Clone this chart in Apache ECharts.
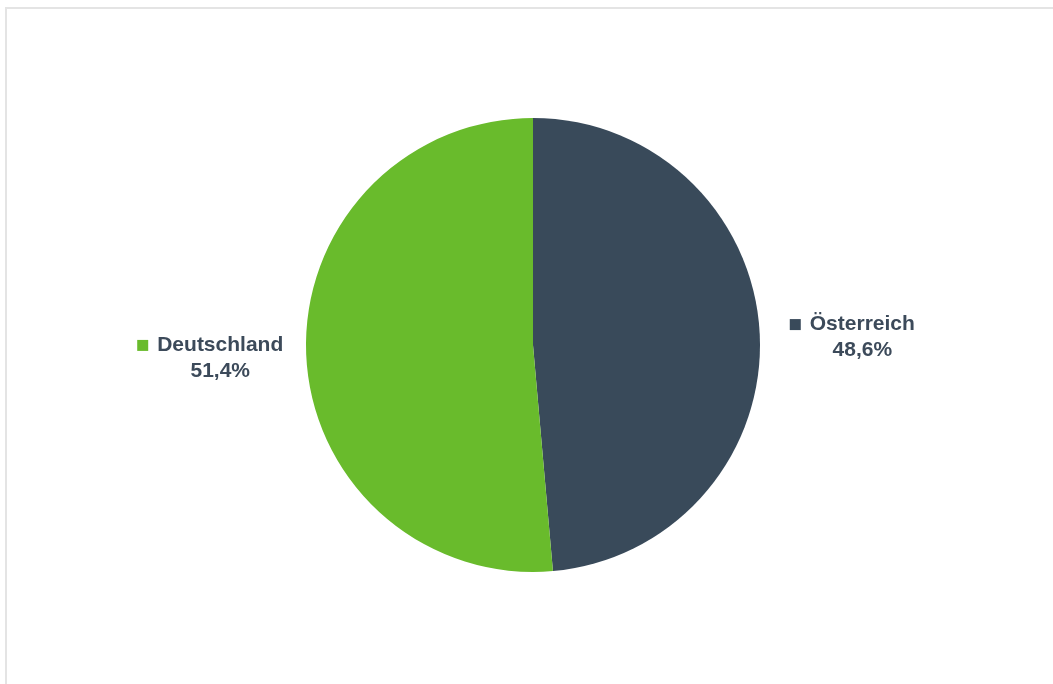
<!DOCTYPE html>
<html>
<head>
<meta charset="utf-8">
<script src="https://cdn.jsdelivr.net/npm/echarts@6/dist/echarts.min.js"></script>
<style>
  html, body { margin: 0; padding: 0; background: #ffffff; }
  #chart { width: 1053px; height: 684px; }
</style>
</head>
<body>
<div id="chart"></div>
<script>
// Anteile nach Land (in %)
const categories = ['Österreich', 'Deutschland'];
const values = [48.6, 51.4];
const colors = ['#394a5a', '#69bb2c'];
// horizontal room between pie edge and label, per slice
const labelGap = [15, 8];

const textColor = '#3c4a5a';
const fontFamily = '"Liberation Sans", Arial, sans-serif';

function fmtPct(v) {
  return v.toFixed(1).replace('.', ',') + '%';
}

const data = categories.map((name, i) => ({
  name: name,
  value: values[i],
  itemStyle: { color: colors[i] },
  labelLine: { show: false, length: 10, length2: labelGap[i] },
  label: {
    rich: {
      sq: { width: 11, height: 11, backgroundColor: colors[i], align: 'center', lineHeight: 26 },
      gap: { width: 9, align: 'center', lineHeight: 26 },
      name: { fontSize: 21, fontWeight: 'bold', color: textColor, fontFamily: fontFamily, align: 'center', lineHeight: 26 },
      pct: { fontSize: 21, fontWeight: 'bold', color: textColor, fontFamily: fontFamily, align: 'center', lineHeight: 26, padding: [0, 0, 0, 20] }
    }
  }
}));

const chart = echarts.init(document.getElementById('chart'), null, { renderer: 'canvas' });
chart.setOption({
  animation: false,
  backgroundColor: '#ffffff',
  graphic: [{
    type: 'rect',
    silent: true,
    shape: { x: 6, y: 8, width: 1100, height: 1000 },
    style: { fill: 'none', stroke: '#e4e4e4', lineWidth: 2 }
  }],
  series: [{
    type: 'pie',
    center: [533, 345],
    radius: [0, 227],
    startAngle: 90,
    clockwise: true,
    avoidLabelOverlap: false,
    itemStyle: { borderWidth: 0 },
    emphasis: { disabled: true },
    label: {
      show: true,
      position: 'outside',
      distanceToLabelLine: 5,
      padding: [6, 0, 0, 0],
      fontFamily: fontFamily,
      formatter: function (p) {
        return '{sq|}{gap|}{name|' + p.name + '}\n{pct|' + fmtPct(p.value) + '}';
      }
    },
    labelLine: { show: false },
    data: data
  }]
});
</script>
</body>
</html>
